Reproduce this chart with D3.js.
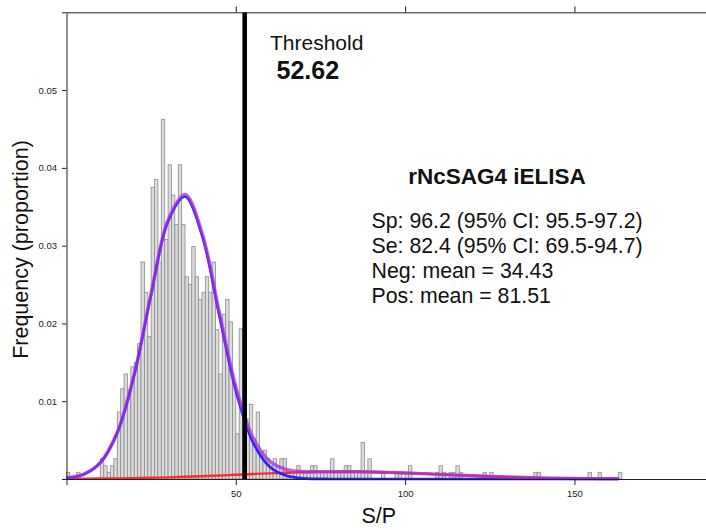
<!DOCTYPE html>
<html>
<head>
<meta charset="utf-8">
<script src="https://d3js.org/d3.v7.min.js"></script>
<style>
  body {margin: 0; background: #fff;}
  svg {display: block; font-family: "Liberation Sans", Arial, sans-serif;}
</style>
</head>
<body>
<svg id="plot" width="706" height="530"></svg>

<script>
// histogram: proportion per S/P bin, bin k covers [k, k+1)
var freq = [
  0.00086, 0, 0, 0.00086, 0, 0, 0, 0, 0, 0,
  0.0026, 0.0017, 0.00086, 0.0017, 0.0026, 0.0086, 0.0116, 0.0135, 0.0115, 0.0144,
  0.0150, 0.0174, 0.0279, 0.0240, 0.0183, 0.0375, 0.0385, 0.0279, 0.0462, 0.0308,
  0.0404, 0.0365, 0.0327, 0.0404, 0.0327, 0.0260, 0.0250, 0.0299, 0.0260, 0.0231,
  0.0240, 0.0260, 0.0240, 0.0279, 0.0192, 0.0135, 0.0212, 0.0231, 0.0202, 0.0123,
  0.0058, 0.0193, 0.0090, 0.0077, 0.0096, 0.0052, 0.0086, 0.0035, 0.0037, 0.0026,
  0.0017, 0.0026, 0.0017, 0.0026, 0.0026, 0.00086, 0.00086, 0.00086, 0.0017, 0.00086,
  0.00086, 0.00086, 0.0017, 0.0017, 0.00086, 0.00086, 0.00086, 0.00086, 0.0026, 0.00086,
  0.00086, 0.00086, 0.0017, 0.0017, 0.00086, 0.00086, 0.00086, 0.0047, 0.00086, 0.0026,
  0, 0, 0, 0.00086, 0, 0, 0, 0.00086, 0.00086, 0,
  0.00086, 0.0017, 0, 0, 0, 0, 0, 0, 0, 0.00086,
  0.0017, 0.00086, 0, 0.00086, 0.00086, 0.0017, 0.00086, 0, 0, 0,
  0, 0, 0, 0.00086, 0, 0.00086, 0, 0, 0, 0,
  0, 0, 0, 0, 0, 0, 0, 0, 0.00086, 0.00086,
  0, 0, 0, 0, 0, 0, 0, 0, 0, 0,
  0, 0, 0, 0, 0.00086, 0, 0, 0.00086, 0, 0,
  0, 0, 0, 0.00086
];

// fitted curves
var curveX = [0, 5, 10, 15, 20, 25, 30, 35, 40, 45, 50, 55, 60, 65, 70, 75, 80, 85, 90, 95,
  100, 105, 110, 115, 120, 125, 130, 135, 140, 145, 150, 155, 160, 163];
var negCurve = [0.000122, 0.000567, 0.00207, 0.00593, 0.01337, 0.02372, 0.0331, 0.03631, 0.03133, 0.02126,
  0.01134, 0.00476, 0.00157, 0.000408, 0.000083, 0.000013, 0, 0, 0, 0,
  0, 0, 0, 0, 0, 0, 0, 0, 0, 0, 0, 0, 0, 0];
var posCurve = [0.000024, 0.000036, 0.000055, 0.000081, 0.000115, 0.00016, 0.000215, 0.000283, 0.000361, 0.000448,
  0.000542, 0.000636, 0.000727, 0.000808, 0.000873, 0.000918, 0.000939, 0.000934, 0.000903, 0.00085,
  0.000777, 0.000692, 0.000599, 0.000504, 0.000413, 0.000329, 0.000255, 0.000192, 0.000141, 0.0001,
  0.000069, 0.000047, 0.000031, 0.000024];
var mixCurve = [0.000146, 0.000603, 0.002125, 0.00601, 0.013485, 0.02388, 0.033315, 0.036593, 0.031691, 0.021708,
  0.011882, 0.005396, 0.002297, 0.001216, 0.000956, 0.000931, 0.000939, 0.000934, 0.000903, 0.00085,
  0.000777, 0.000692, 0.000599, 0.000504, 0.000413, 0.000329, 0.000255, 0.000192, 0.000141, 0.0001,
  0.000069, 0.000047, 0.000031, 0.000024];

var threshold = 52.62;
var xTicks = [0, 50, 100, 150];
var yTicks = [0, 0.01, 0.02, 0.03, 0.04, 0.05, 0.06];
var titleText = "rNcSAG4 iELISA";
var statLines = [
  "Sp: 96.2 (95% CI: 95.5-97.2)",
  "Se: 82.4 (95% CI: 69.5-94.7)",
  "Neg: mean = 34.43",
  "Pos: mean = 81.51"
];

var svg = d3.select("#plot");

var x = d3.scaleLinear().domain([0, 189]).range([66.5, 706.5]);
var y = d3.scaleLinear().domain([0, 0.06]).range([479, 12.3]);

// bars
var bins = freq.map(function(v, i) { return {x0: i, x1: i + 1, v: v}; })
  .filter(function(d) { return d.v > 0; });

svg.append("g").selectAll("rect")
  .data(bins)
  .enter().append("rect")
  .attr("x", function(d) { return x(d.x0); })
  .attr("y", function(d) { return y(d.v); })
  .attr("width", function(d) { return x(d.x1) - x(d.x0); })
  .attr("height", function(d) { return y(0) - y(d.v); })
  .style("fill", "#dcdcdc")
  .style("stroke", "#8a8a8a")
  .style("stroke-width", 0.8);

// curves
var line = d3.line()
  .x(function(d) { return x(d[0]); })
  .y(function(d) { return y(d[1]); })
  .curve(d3.curveCatmullRom);

function pts(vals) { return curveX.map(function(c, i) { return [c, vals[i]]; }); }

svg.append("path").datum(pts(posCurve)).attr("d", line)
  .style("fill", "none").style("stroke", "#ff2b2b").style("stroke-width", 2.4);
svg.append("path").datum(pts(negCurve)).attr("d", line)
  .style("fill", "none").style("stroke", "#2323ff").style("stroke-width", 2.6);
svg.append("path").datum(pts(mixCurve)).attr("d", line)
  .style("fill", "none").style("stroke", "#a82ee0").style("stroke-opacity", 0.75).style("stroke-width", 3.4);

// threshold line
svg.append("line")
  .attr("x1", x(threshold)).attr("x2", x(threshold))
  .attr("y1", y(0.06)).attr("y2", y(0))
  .style("stroke", "#000").style("stroke-width", 4.6);

// axes
var yAxis = d3.axisLeft(y).tickValues(yTicks).tickSize(4.5).tickSizeOuter(0).tickPadding(5)
  .tickFormat(function(d) { return (d > 0 && d < 0.06) ? d3.format(".2f")(d) : ""; });
var xAxis = d3.axisBottom(x).tickValues(xTicks).tickSize(6).tickSizeOuter(0).tickPadding(5)
  .tickFormat(function(d) { return d === 0 ? "" : d; });
var topAxis = d3.axisTop(x).tickValues([50, 100, 150]).tickSize(6).tickSizeOuter(0).tickFormat("");

svg.append("g").attr("class", "axis").attr("transform", "translate(66.5,0)").call(yAxis);
svg.append("g").attr("class", "axis").attr("transform", "translate(0,479)").call(xAxis);
svg.append("g").attr("class", "axis").attr("transform", "translate(0,12.3)").call(topAxis);

svg.selectAll(".axis path, .axis line").style("stroke", "#222").style("stroke-width", 1);
svg.selectAll(".axis text").style("font-size", "9.5px").style("fill", "#222")
  .style("font-family", "'Liberation Sans', Arial, sans-serif");

// axis titles
svg.append("text")
  .attr("transform", "translate(27.5,249.5) rotate(-90)")
  .attr("text-anchor", "middle")
  .style("font-size", "21.5px").style("fill", "#111")
  .text("Frequency (proportion)");

svg.append("text")
  .attr("x", 361.5).attr("y", 523)
  .style("font-size", "21.5px").style("fill", "#111")
  .text("S/P");

// annotations
svg.append("text").attr("x", 270).attr("y", 50)
  .style("font-size", "21px").style("fill", "#111").text("Threshold");
svg.append("text").attr("x", 276.5).attr("y", 79)
  .style("font-size", "25px").style("font-weight", "bold").style("fill", "#111").text(threshold.toFixed(2));

svg.append("text").attr("x", 497).attr("y", 184.3).attr("text-anchor", "middle")
  .style("font-size", "22.5px").style("font-weight", "bold").style("fill", "#111").text(titleText);

svg.append("g").selectAll("text")
  .data(statLines)
  .enter().append("text")
  .attr("x", 371.5)
  .attr("y", function(d, i) { return 227.7 + i * 25; })
  .style("font-size", "21.3px").style("fill", "#111")
  .text(function(d) { return d; });
</script>
</body>
</html>
